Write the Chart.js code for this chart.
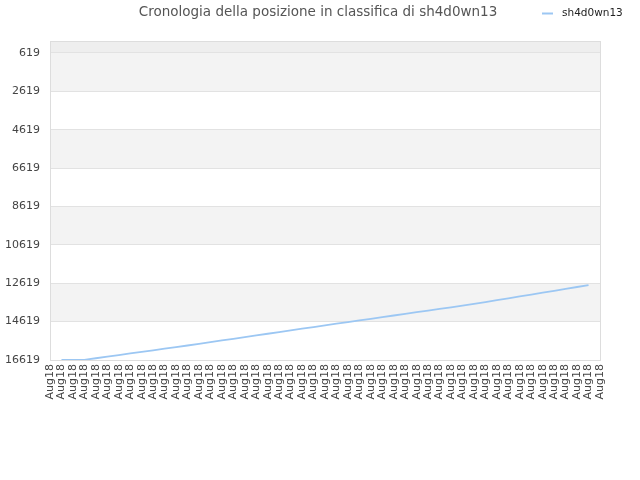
<!DOCTYPE html>
<html>
<head>
<meta charset="utf-8">
<title>Cronologia della posizione in classifica di sh4d0wn13</title>
<script src="https://cdn.jsdelivr.net/npm/chart.js@4.4.0/dist/chart.umd.min.js"></script>
<style>
  html, body { margin: 0; padding: 0; background: #fff; }
  #wrap { width: 640px; height: 480px; }
</style>
</head>
<body>
<div id="wrap"><canvas id="ctx" width="640" height="480"></canvas></div>
<script>
const days = [
  'Aug18', 'Aug18', 'Aug18', 'Aug18', 'Aug18', 'Aug18', 'Aug18', 'Aug18', 'Aug18', 'Aug18',
  'Aug18', 'Aug18', 'Aug18', 'Aug18', 'Aug18', 'Aug18', 'Aug18', 'Aug18', 'Aug18', 'Aug18',
  'Aug18', 'Aug18', 'Aug18', 'Aug18', 'Aug18', 'Aug18', 'Aug18', 'Aug18', 'Aug18', 'Aug18',
  'Aug18', 'Aug18', 'Aug18', 'Aug18', 'Aug18', 'Aug18', 'Aug18', 'Aug18', 'Aug18', 'Aug18',
  'Aug18', 'Aug18', 'Aug18', 'Aug18', 'Aug18', 'Aug18', 'Aug18', 'Aug18', 'Aug18'
];

// ranking position per day (lower is better)
const position = [
  null, 16619, 16619, 16610, 16527, 16444, 16361, 16278, 16195, 16112,
  16029, 15946, 15863, 15776, 15688, 15601, 15513, 15426, 15338, 15251,
  15163, 15076, 14988, 14901, 14813, 14727, 14642, 14556, 14471, 14385,
  14300, 14214, 14129, 14043, 13958, 13872, 13787, 13698, 13600, 13502,
  13404, 13306, 13208, 13110, 13012, 12914, 12816, 12718, null
];

const yTicks = [619, 2619, 4619, 6619, 8619, 10619, 12619, 14619, 16619];

const playerName = 'sh4d0wn13';
const chartTitle = 'Cronologia della posizione in classifica di ' + playerName;
const lineColor = '#9cc7f3';

// alternating grey bands between the y ticks, plus the outer frame
var bandsPlugin = {
  id: 'bands',
  beforeDraw: function (chart) {
    var ctx = chart.ctx;
    var area = chart.chartArea;
    var y = chart.scales.y;
    ctx.save();
    ctx.fillStyle = '#eeeeee';
    ctx.fillRect(area.left, area.top, area.right - area.left, y.getPixelForValue(yTicks[0]) - area.top);
    for (var i = 0; i < yTicks.length - 1; i++) {
      if (i % 2 == 0) {
        var y1 = y.getPixelForValue(yTicks[i]);
        var y2 = y.getPixelForValue(yTicks[i + 1]);
        ctx.fillStyle = '#f3f3f3';
        ctx.fillRect(area.left, y1, area.right - area.left, y2 - y1);
      }
    }
    ctx.restore();
  },
  beforeDatasetsDraw: function (chart) {
    var ctx = chart.ctx;
    var area = chart.chartArea;
    ctx.save();
    ctx.strokeStyle = '#dddddd';
    ctx.lineWidth = 1;
    ctx.strokeRect(area.left + 0.5, area.top + 0.5, area.right - area.left, area.bottom - area.top);
    ctx.restore();
  }
};

// title centred on the page and the small legend on its right
var headerPlugin = {
  id: 'header',
  afterDraw: function (chart) {
    var ctx = chart.ctx;
    var ds = chart.data.datasets[0];
    ctx.save();
    ctx.fillStyle = '#555';
    ctx.font = '13.5px "DejaVu Sans"';
    ctx.textAlign = 'center';
    ctx.textBaseline = 'middle';
    ctx.fillText(chartTitle, 318, 12);

    ctx.strokeStyle = ds.borderColor;
    ctx.lineWidth = 2;
    ctx.beginPath();
    ctx.moveTo(542, 13.5);
    ctx.lineTo(553, 13.5);
    ctx.stroke();
    ctx.fillStyle = '#222';
    ctx.font = '10.5px "DejaVu Sans"';
    ctx.textAlign = 'left';
    ctx.fillText(ds.label, 562, 13);
    ctx.restore();
  }
};

new Chart(document.getElementById('ctx'), {
  type: 'line',
  data: {
    labels: days,
    datasets: [{
      label: playerName,
      data: position,
      borderColor: lineColor,
      backgroundColor: lineColor,
      borderWidth: 1.8,
      pointRadius: 0,
      tension: 0,
      fill: false
    }]
  },
  options: {
    responsive: false,
    animation: false,
    layout: { padding: { left: 0, right: 40, top: 41, bottom: 0 } },
    plugins: {
      legend: { display: false },
      tooltip: { enabled: false },
      title: { display: false }
    },
    scales: {
      x: {
        grid: { display: false, drawTicks: false },
        border: { display: false },
        ticks: {
          autoSkip: false,
          minRotation: 90,
          maxRotation: 90,
          padding: 4,
          color: '#444',
          font: { family: 'DejaVu Sans', size: 11 }
        },
        afterFit: function (scale) { scale.height = 120; }
      },
      y: {
        reverse: true,
        min: 0,
        max: 16619,
        grid: { color: '#e2e2e2', drawTicks: false },
        border: { display: false },
        ticks: {
          padding: 10,
          color: '#444',
          font: { family: 'DejaVu Sans', size: 11 },
          callback: function (v) { return String(v); }
        },
        afterBuildTicks: function (scale) {
          scale.ticks = yTicks.map(function (v) { return { value: v }; });
        },
        afterFit: function (scale) { scale.width = 50; }
      }
    }
  },
  plugins: [bandsPlugin, headerPlugin]
});
</script>
</body>
</html>
